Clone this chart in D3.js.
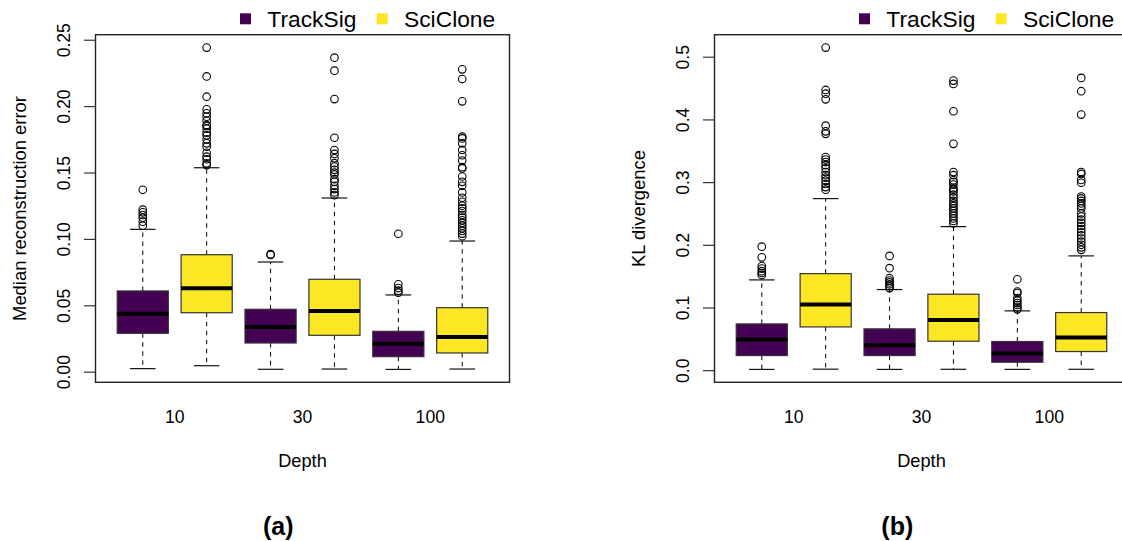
<!DOCTYPE html>
<html>
<head>
<meta charset="utf-8">
<script src="https://cdn.jsdelivr.net/npm/d3@7"></script>
<style>
  html, body { margin: 0; padding: 0; background: #ffffff; }
  svg { display: block; font-family: "Liberation Sans", Arial, Helvetica, sans-serif; }
</style>
</head>
<body>
<svg id="fig" width="1122" height="541"></svg>
<script>
// Box order within each panel: TrackSig/SciClone at depth 10, 30, 100
const depths = ["10", "30", "100"];
const methods = ["TrackSig", "SciClone"];
const methodColors = ["#440154", "#FDE725"];

// (a) Median reconstruction error
const errWhiskerLo = [0.0023, 0.0045, 0.0018, 0.0020, 0.0017, 0.0020];
const errQ1        = [0.0289, 0.0444, 0.0216, 0.0274, 0.0113, 0.0141];
const errMedian    = [0.0437, 0.0628, 0.0337, 0.0457, 0.0211, 0.0261];
const errQ3        = [0.0608, 0.0881, 0.0470, 0.0696, 0.0304, 0.0482];
const errWhiskerHi = [0.1072, 0.1536, 0.0826, 0.1308, 0.0578, 0.0984];
const errOutliers = [
  [0.137, 0.122, 0.120, 0.118, 0.116, 0.113, 0.110],
  [0.2441, 0.2224, 0.2071, 0.1976, 0.1946, 0.1920, 0.1890, 0.1858, 0.1850, 0.1830,
   0.1800, 0.1780, 0.1750, 0.1720, 0.1695, 0.1649, 0.1619, 0.1600, 0.1569, 0.1556],
  [0.0885, 0.0879],
  [0.2365, 0.2267, 0.2053, 0.1762, 0.1669, 0.1640, 0.1607, 0.1570, 0.1545, 0.1520,
   0.1500, 0.1485, 0.1450, 0.1430, 0.1400, 0.1375, 0.1350, 0.1330],
  [0.1039, 0.0658, 0.0630, 0.0610, 0.0595],
  [0.2277, 0.2204, 0.2036, 0.1770, 0.1757, 0.1720, 0.1670, 0.1630, 0.1590, 0.1540,
   0.1530, 0.1470, 0.1430, 0.1400, 0.1350, 0.1310, 0.1280, 0.1250, 0.1230, 0.1210,
   0.1180, 0.1160, 0.1140, 0.1120, 0.1100, 0.1080, 0.1060, 0.1040, 0.1020]
];
const errTicks = [0, 0.05, 0.10, 0.15, 0.20, 0.25];

// (b) KL divergence
const klWhiskerLo = [0.0012, 0.0016, 0.0012, 0.0014, 0.0013, 0.0014];
const klQ1        = [0.0233, 0.0690, 0.0233, 0.0462, 0.0127, 0.0297];
const klMedian    = [0.0488, 0.1047, 0.0399, 0.0802, 0.0265, 0.0520];
const klQ3        = [0.0738, 0.1540, 0.0659, 0.1212, 0.0457, 0.0919];
const klWhiskerHi = [0.1440, 0.2737, 0.1286, 0.2290, 0.0946, 0.1823];
const klOutliers = [
  [0.197, 0.180, 0.166, 0.162, 0.158, 0.155, 0.152],
  [0.5146, 0.447, 0.441, 0.432, 0.390, 0.381, 0.377, 0.340, 0.336, 0.332, 0.327,
   0.322, 0.316, 0.311, 0.307, 0.302, 0.297, 0.292, 0.288],
  [0.1823, 0.1627, 0.1467, 0.1430, 0.1400, 0.1370, 0.1340, 0.1310],
  [0.462, 0.4566, 0.413, 0.361, 0.316, 0.311, 0.303, 0.300, 0.296, 0.290, 0.288,
   0.285, 0.280, 0.275, 0.270, 0.266, 0.262, 0.258, 0.254, 0.250, 0.246, 0.242,
   0.238, 0.234],
  [0.145, 0.1254, 0.123, 0.115, 0.111, 0.107, 0.104, 0.100, 0.097],
  [0.4662, 0.445, 0.4077, 0.316, 0.313, 0.3035, 0.299, 0.277, 0.274, 0.270, 0.266,
   0.262, 0.258, 0.250, 0.245, 0.240, 0.235, 0.230, 0.225, 0.220, 0.215, 0.210,
   0.205, 0.200, 0.196, 0.192]
];
const klTicks = [0, 0.1, 0.2, 0.3, 0.4, 0.5];

// Category label positions sit between each pair of boxes
const depthLabelPos = [1.5, 3.5, 5.5];

const svg = d3.select("#fig");

const plot = { left: 95.5, right: 509.5, top: 34.7, bottom: 382.3 };
const panelShift = 619;

function drawPanel(offsetX, s, ticks, tickFmt, yTitle, tag) {
  const g = svg.append("g").attr("transform", `translate(${offsetX},0)`);

  const boxes = s.lo.map((d, i) => ({
    pos: i + 1,
    color: methodColors[i % 2],
    lo: s.lo[i], q1: s.q1[i], med: s.med[i], q3: s.q3[i], hi: s.hi[i],
    out: s.out[i]
  }));

  // x: box positions 1..6 with R-style 4% padding around 0.5..6.5
  const x = d3.scaleLinear().domain([0.26, 6.74]).range([plot.left, plot.right]);

  const allVals = boxes.flatMap(b => [b.lo, b.hi, ...b.out]);
  const [vmin, vmax] = d3.extent(allVals);
  const pad = (vmax - vmin) * 0.04;
  const y = d3.scaleLinear().domain([vmin - pad, vmax + pad]).range([plot.bottom, plot.top]);

  const bw = (x(2) - x(1)) * 0.8;
  const cw = bw / 2;

  const bg = g.selectAll("g.box").data(boxes).join("g").attr("class", "box");

  // whiskers (dashed)
  bg.append("line")
    .attr("x1", d => x(d.pos)).attr("x2", d => x(d.pos))
    .attr("y1", d => y(d.q3)).attr("y2", d => y(d.hi))
    .attr("stroke", "#000").attr("stroke-width", 1).attr("stroke-dasharray", "4.5,4.5");
  bg.append("line")
    .attr("x1", d => x(d.pos)).attr("x2", d => x(d.pos))
    .attr("y1", d => y(d.q1)).attr("y2", d => y(d.lo))
    .attr("stroke", "#000").attr("stroke-width", 1).attr("stroke-dasharray", "4.5,4.5");
  // whisker caps
  ["hi", "lo"].forEach(k => {
    bg.append("line")
      .attr("x1", d => x(d.pos) - cw / 2).attr("x2", d => x(d.pos) + cw / 2)
      .attr("y1", d => y(d[k])).attr("y2", d => y(d[k]))
      .attr("stroke", "#111").attr("stroke-width", 1.2);
  });
  // boxes
  bg.append("rect")
    .attr("x", d => x(d.pos) - bw / 2)
    .attr("width", bw)
    .attr("y", d => y(d.q3))
    .attr("height", d => y(d.q1) - y(d.q3))
    .attr("fill", d => d.color)
    .attr("stroke", "#333").attr("stroke-width", 1.2);
  // medians
  bg.append("line")
    .attr("x1", d => x(d.pos) - bw / 2).attr("x2", d => x(d.pos) + bw / 2)
    .attr("y1", d => y(d.med)).attr("y2", d => y(d.med))
    .attr("stroke", "#000").attr("stroke-width", 4);
  // outliers
  bg.selectAll("circle").data(d => d.out.map(v => ({ pos: d.pos, v }))).join("circle")
    .attr("cx", d => x(d.pos)).attr("cy", d => y(d.v)).attr("r", 3.8)
    .attr("fill", "none").attr("stroke", "#000").attr("stroke-width", 1.1);

  // frame
  g.append("rect")
    .attr("x", plot.left).attr("y", plot.top)
    .attr("width", plot.right - plot.left).attr("height", plot.bottom - plot.top)
    .attr("fill", "none").attr("stroke", "#222").attr("stroke-width", 1.4);

  // y axis with rotated tick labels
  const ax = g.append("g").attr("transform", `translate(${plot.left},0)`)
    .call(d3.axisLeft(y).tickValues(ticks).tickFormat(tickFmt).tickSize(11.5));
  ax.select(".domain").remove();
  ax.selectAll(".tick line").attr("stroke", "#333").attr("stroke-width", 1.2);
  ax.selectAll(".tick text")
    .attr("x", null).attr("dy", null).attr("y", 0)
    .attr("transform", "translate(-26,0) rotate(-90)")
    .attr("text-anchor", "middle")
    .attr("font-size", 17.6).attr("fill", "#000");

  // y title
  g.append("text")
    .attr("transform", `translate(25.7,${(plot.top + plot.bottom) / 2}) rotate(-90)`)
    .attr("text-anchor", "middle").attr("font-size", 18.4)
    .text(yTitle);

  // depth labels
  g.selectAll("text.depth").data(depths).join("text").attr("class", "depth")
    .attr("x", (d, i) => x(depthLabelPos[i])).attr("y", 423.3)
    .attr("text-anchor", "middle").attr("font-size", 17.6)
    .text(d => d);

  g.append("text")
    .attr("x", (plot.left + plot.right) / 2).attr("y", 467.3)
    .attr("text-anchor", "middle").attr("font-size", 18.2)
    .text("Depth");

  g.append("text")
    .attr("x", 278.3).attr("y", 535)
    .attr("text-anchor", "middle").attr("font-size", 25).attr("font-weight", "bold")
    .text(tag);

  // legend
  const lg = g.selectAll("g.legend").data(methods).join("g").attr("class", "legend")
    .attr("transform", (d, i) => `translate(${240 + i * 136.7},0)`);
  lg.append("rect").attr("x", 0).attr("y", 13.3).attr("width", 11).attr("height", 11)
    .attr("fill", (d, i) => methodColors[i]);
  lg.append("text").attr("x", 27.3).attr("y", 27.3).attr("font-size", 22.8)
    .text(d => d);
}

drawPanel(0,
  { lo: errWhiskerLo, q1: errQ1, med: errMedian, q3: errQ3, hi: errWhiskerHi, out: errOutliers },
  errTicks, d3.format(".2f"), "Median reconstruction error", "(a)");

drawPanel(panelShift,
  { lo: klWhiskerLo, q1: klQ1, med: klMedian, q3: klQ3, hi: klWhiskerHi, out: klOutliers },
  klTicks, d3.format(".1f"), "KL divergence", "(b)");
</script>
</body>
</html>
